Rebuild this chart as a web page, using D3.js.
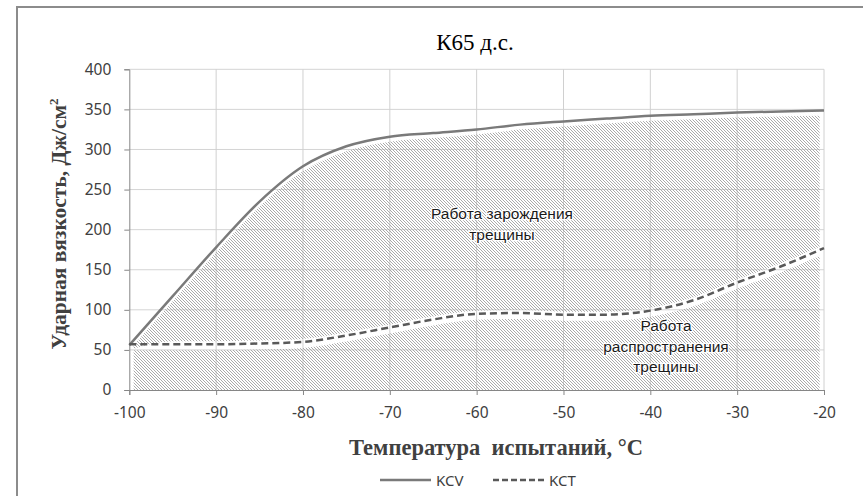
<!DOCTYPE html>
<html>
<head>
<meta charset="utf-8">
<script src="https://cdn.jsdelivr.net/npm/d3@7"></script>
<style>
  body { margin: 0; background: #fff; }
  svg { display: block; }
</style>
</head>
<body>
<svg width="863" height="496"></svg>
<script>
// temperature, °C
var temps = [-100, -95, -90, -85, -80, -75, -70, -65, -60, -55, -50, -45, -40, -35, -30, -25, -20];
// impact toughness, J/cm2
var kcv = [56, 117, 178, 235, 279, 304, 316, 320.5, 325, 331, 335, 338.5, 342, 344, 346, 347.5, 348.5];
var kct = [57, 57, 57, 58, 60, 68, 78, 88, 95, 96, 94, 94, 99, 112, 134, 154, 177];
var xTicks = [-100, -90, -80, -70, -60, -50, -40, -30, -20];
var yTicks = [0, 50, 100, 150, 200, 250, 300, 350, 400];
var seriesNames = ['KCV', 'KCT'];

var rows = temps.map(function(t, i) { return {t: t, kcv: kcv[i], kct: kct[i]}; });

var svg = d3.select('svg');

var x = d3.scaleLinear().domain([-100, -20]).range([129.3, 824]);
var y = d3.scaleLinear().domain([0, 400]).range([390, 69.3]);

// outer chart border (only left/top visible)
svg.append('rect')
  .attr('x', 17).attr('y', 7).attr('width', 900).attr('height', 600)
  .attr('fill', 'none').attr('stroke', '#8c8c8c').attr('stroke-width', 2);

// hatch pattern
var defs = svg.append('defs');
var pat = defs.append('pattern')
  .attr('id', 'hatch')
  .attr('patternUnits', 'userSpaceOnUse')
  .attr('width', 3).attr('height', 3);
pat.append('path')
  .attr('d', 'M-1,-1 L4,4 M-1,2 L1,4 M2,-1 L4,1')
  .attr('stroke', '#a0a0a0').attr('stroke-width', 0.9);

defs.append('clipPath').attr('id', 'hclip')
  .append('rect')
  .attr('x', x(-99.5)).attr('y', y(400))
  .attr('width', x(-20.5) - x(-99.5)).attr('height', y(0) - y(400));

// gridlines
svg.append('g').selectAll('line.h')
  .data(yTicks.slice(1)).enter().append('line')
  .attr('x1', x(-100)).attr('x2', x(-20))
  .attr('y1', function(d) { return y(d); }).attr('y2', function(d) { return y(d); })
  .attr('stroke', '#d4d4d4').attr('stroke-width', 1);
svg.append('g').selectAll('line.v')
  .data(xTicks.slice(1)).enter().append('line')
  .attr('y1', y(0)).attr('y2', y(400))
  .attr('x1', function(d) { return x(d); }).attr('x2', function(d) { return x(d); })
  .attr('stroke', '#d0d0d0').attr('stroke-width', 1);

// hatched regions
var gapTop = 5, gapKct = 3, gapBelow = 6;
var hatchG = svg.append('g').attr('clip-path', 'url(#hclip)');
hatchG.append('path')
  .datum(rows)
  .attr('fill', 'url(#hatch)')
  .attr('d', d3.area()
    .curve(d3.curveMonotoneX)
    .x(function(d) { return x(d.t); })
    .y1(function(d) { return y(d.kcv) + gapTop; })
    .y0(function(d) { return Math.max(y(d.kct) - gapKct, y(d.kcv) + gapTop); }));
hatchG.append('path')
  .datum(rows)
  .attr('fill', 'url(#hatch)')
  .attr('d', d3.area()
    .curve(d3.curveMonotoneX)
    .x(function(d) { return x(d.t); })
    .y1(function(d) { return y(d.kct) + gapBelow; })
    .y0(y(0)));

// axes
var fmt = function(d) { return String(d); };
var leftAxis = d3.axisLeft(y).tickValues(yTicks).tickFormat(fmt).tickSize(5).tickPadding(13);
var bottomAxis = d3.axisBottom(x).tickValues(xTicks).tickFormat(fmt).tickSize(5).tickPadding(12);

var gy = svg.append('g').attr('transform', 'translate(' + x(-100) + ',0)').call(leftAxis);
var gx = svg.append('g').attr('transform', 'translate(0,' + y(0) + ')').call(bottomAxis);
[gx, gy].forEach(function(g) {
  g.select('.domain').attr('stroke', '#868686');
  g.selectAll('.tick line').attr('stroke', '#868686');
  g.selectAll('.tick text')
    .attr('fill', '#404040')
    .style('font-family', '"Noto Sans", sans-serif')
    .style('font-size', '15.5px');
});

// lines
var lineFor = function(key) {
  return d3.line().curve(d3.curveMonotoneX)
    .x(function(d) { return x(d.t); })
    .y(function(d) { return y(d[key]); });
};
svg.append('path').datum(rows)
  .attr('d', lineFor('kcv'))
  .attr('fill', 'none').attr('stroke', '#7a7a7a').attr('stroke-width', 2.5);
svg.append('path').datum(rows)
  .attr('d', lineFor('kct'))
  .attr('fill', 'none').attr('stroke', '#595959').attr('stroke-width', 2.5)
  .attr('stroke-dasharray', '7,4');

// annotations
var note = function(lines, cx, y0) {
  var t = svg.append('text')
    .attr('text-anchor', 'middle')
    .style('font-family', '"Liberation Sans", Arial, sans-serif')
    .style('font-size', '15.5px')
    .attr('fill', '#1a1a1a')
    .attr('stroke', '#fff').attr('stroke-width', 2.5)
    .attr('paint-order', 'stroke');
  lines.forEach(function(s, i) {
    t.append('tspan').attr('x', cx).attr('y', y0 + i * 20.5).text(s);
  });
};
note(['Работа зарождения', 'трещины'], 502, 219);
note(['Работа', 'распространения', 'трещины'], 666, 331);

// title
svg.append('text')
  .attr('x', 475).attr('y', 50)
  .attr('text-anchor', 'middle')
  .style('font-family', '"Liberation Serif", "Times New Roman", serif')
  .style('font-size', '23px')
  .attr('fill', '#000')
  .text('К65 д.с.');

// y axis title
var yt = svg.append('text')
  .attr('transform', 'translate(66,' + 224 + ') rotate(-90)')
  .attr('text-anchor', 'middle')
  .style('font-family', '"Liberation Serif", "Times New Roman", serif')
  .style('font-size', '21.5px')
  .style('font-weight', 'bold')
  .attr('fill', '#404040');
yt.append('tspan').text('Ударная вязкость, Дж/см');
yt.append('tspan').attr('dy', -8).style('font-size', '13px').text('2');

// x axis title
svg.append('text')
  .attr('x', 496).attr('y', 455)
  .attr('text-anchor', 'middle')
  .style('font-family', '"Liberation Serif", "Times New Roman", serif')
  .style('font-size', '22.5px')
  .style('font-weight', 'bold')
  .style('white-space', 'pre')
  .attr('fill', '#404040')
  .text('Температура  испытаний, °С');

// legend
var legend = svg.append('g');
var legX = [380, 493];
seriesNames.forEach(function(name, i) {
  legend.append('line')
    .attr('x1', legX[i]).attr('x2', legX[i] + 51)
    .attr('y1', 480).attr('y2', 480)
    .attr('stroke', i === 0 ? '#7a7a7a' : '#595959')
    .attr('stroke-width', 2.5)
    .attr('stroke-dasharray', i === 0 ? null : '6,3');
  legend.append('text')
    .attr('x', legX[i] + 56).attr('y', 486)
    .style('font-family', '"Noto Sans", sans-serif')
    .style('font-size', '15px')
    .attr('fill', '#404040')
    .text(name);
});
</script>
</body>
</html>
